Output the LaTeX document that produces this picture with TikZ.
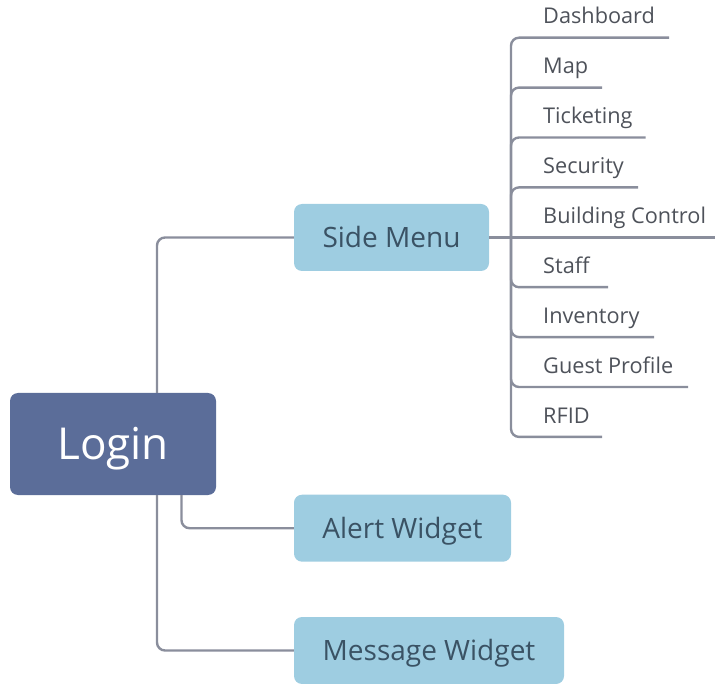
\documentclass[tikz,border=0pt]{standalone}
\usepackage{fontspec}
\setmainfont{Open Sans}
\definecolor{linecol}{RGB}{138,142,156}
\definecolor{boxcol}{RGB}{158,205,225}
\definecolor{boxtext}{RGB}{58,82,100}
\definecolor{logincol}{RGB}{91,109,153}
\definecolor{leaftext}{RGB}{78,82,90}
\begin{document}
\begin{tikzpicture}[x=1pt,y=-1pt,
  line/.style={draw=linecol, line width=2.4pt, rounded corners=8pt},
  box/.style={rounded corners=8pt, fill=boxcol, text=boxtext,
    font=\fontsize{28}{33}\selectfont, text height=20pt, text depth=0pt, inner sep=0pt},
  leaf/.style={anchor=base west, inner sep=0pt, text=leaftext,
    font=\fontsize{21.7}{26}\selectfont}]

\useasboundingbox (0,0) rectangle (715,684);

% main boxes
\node[box, fill=logincol, text=white, font=\fontsize{44}{52}\selectfont,
  text height=31.4pt, minimum width=206pt, minimum height=102pt] (login) at (113,444) {Login};
\node[box, minimum width=195pt, minimum height=67pt] (side) at (391.5,237.5) {Side Menu};
\node[box, minimum width=217pt, minimum height=67pt] (alert) at (402.5,528.2) {Alert Widget};
\node[box, minimum width=270pt, minimum height=67pt] (msg) at (429,650.5) {Message Widget};

% connectors from Login
\draw[line] ([xshift=44pt]login.north) |- (side.west);
\draw[line] ([xshift=68.5pt]login.south) |- (alert.west);
\draw[line] ([xshift=44pt]login.south) |- (msg.west);

% side menu items
\coordinate (hub) at (511,237.5);
\coordinate (bcE) at (715,237.5);
\node[leaf] (bc) at (543,223.8) {Building Control};
\draw[line] (side.east) -- (bcE);

\foreach \nm/\txt/\ex/\i in {dash/Dashboard/669/0, map/Map/602/1, tick/Ticketing/645.7/2,
    sec/Security/638/3, staff/Staff/608/5, inv/Inventory/654/6,
    guest/Guest Profile/688/7, rfid/RFID/602/8} {
  \pgfmathsetmacro{\yy}{37.7+49.9*\i}
  \coordinate (\nm E) at (\ex,\yy);
  \node[leaf] (\nm) at (543,\yy-13.7) {\txt};
  \draw[line] (hub) |- (\nm E);
}
\end{tikzpicture}
\end{document}
